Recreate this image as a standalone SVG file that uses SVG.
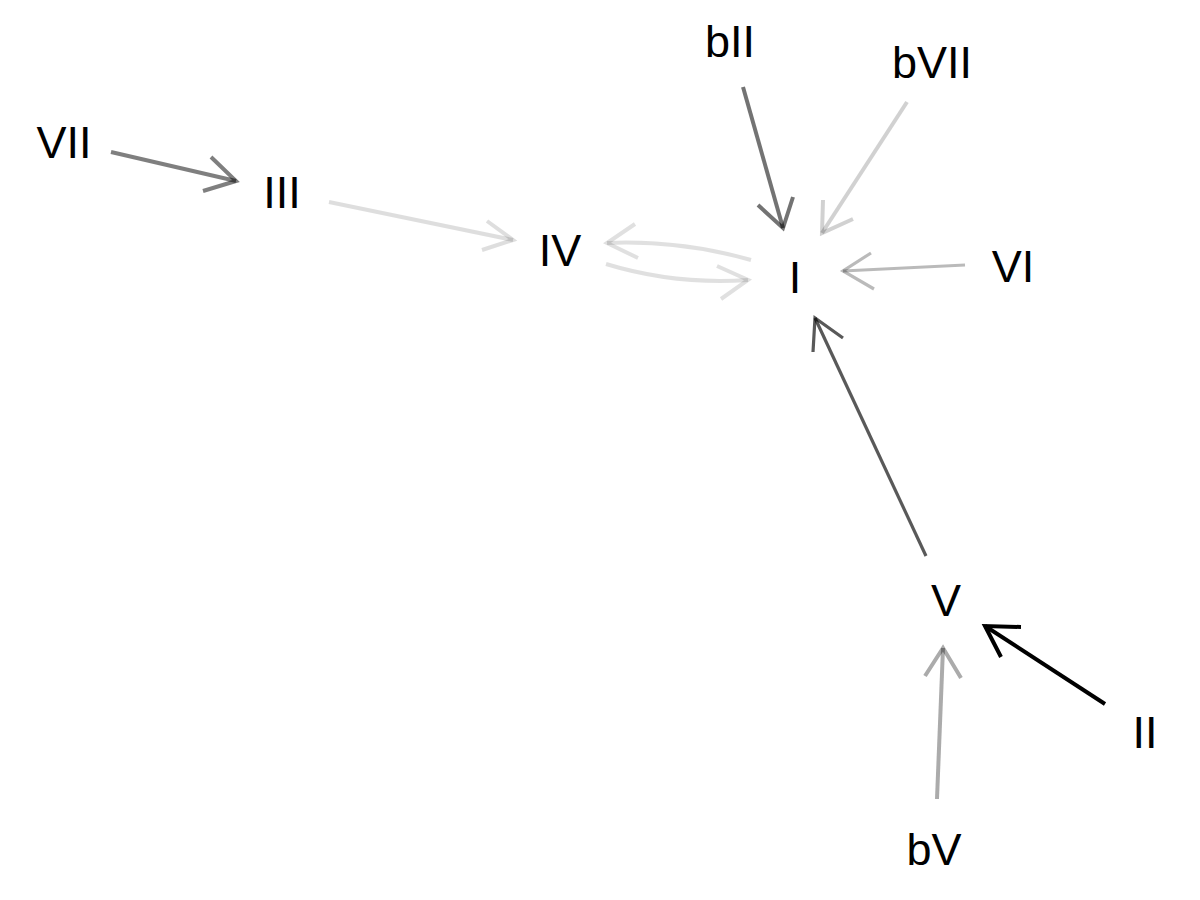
<svg xmlns="http://www.w3.org/2000/svg" width="1200" height="900" viewBox="0 0 1200 900">
  <style>
    .lbl { font-family: "Liberation Sans", Arial, sans-serif; font-size: 45px; fill: #000; text-anchor: middle; }
    .e { fill: none; stroke: #000; stroke-linecap: butt; stroke-linejoin: miter; }
    .w3 { stroke-width: 3.2; }
    .w4 { stroke-width: 4; }
  </style>
  <rect width="1200" height="900" fill="#fff"/>

  <!-- connectors: shaft + open arrowhead, shade = edge weight -->
  <g id="edges">
    <g id="e-VII-III" class="e w4" stroke-opacity="0.5">
      <path d="M111,152 L236,181"/>
      <path d="M211,157 L236,181 L203,191"/>
    </g>
    <g id="e-III-IV" class="e w4" stroke-opacity="0.13">
      <path d="M329,202 L513,240"/>
      <path d="M487,221 L513,240 L482,250"/>
    </g>
    <g id="e-I-IV" class="e w4" stroke-opacity="0.12">
      <path d="M751,260 Q680,240 607,243"/>
      <path d="M635,224 L607,243 L638,258"/>
    </g>
    <g id="e-IV-I" class="e w4" stroke-opacity="0.12">
      <path d="M606,264 Q675,285 748,280"/>
      <path d="M717,266 L748,280 L721,299"/>
    </g>
    <g id="e-bII-I" class="e w4" stroke-opacity="0.55">
      <path d="M743,87 L783,228"/>
      <path d="M758,205 L783,228 L793,197"/>
    </g>
    <g id="e-bVII-I" class="e w4" stroke-opacity="0.18">
      <path d="M907,102 L822,233"/>
      <path d="M823,200 L822,233 L853,219"/>
    </g>
    <g id="e-VI-I" class="e w3" stroke-opacity="0.27">
      <path d="M965,265 L843,271"/>
      <path d="M871,253 L843,271 L874,289"/>
    </g>
    <g id="e-V-I" class="e w3" stroke-opacity="0.65">
      <path d="M926,556 L815,318"/>
      <path d="M813,352 L815,318 L843,338"/>
    </g>
    <g id="e-II-V" class="e w4" stroke-opacity="1">
      <path d="M1105,704 L985,626"/>
      <path d="M1021,627 L985,626 L1001,657"/>
    </g>
    <g id="e-bV-V" class="e w4" stroke-opacity="0.33">
      <path d="M937,799 L943,648"/>
      <path d="M925,676 L943,648 L961,678"/>
    </g>
  </g>

  <!-- nodes -->
  <g id="n-VII"><text class="lbl" x="64" y="158">VII</text></g>
  <g id="n-III"><text class="lbl" x="282" y="208">III</text></g>
  <g id="n-IV"><text class="lbl" x="560" y="266">IV</text></g>
  <g id="n-I"><text class="lbl" x="795" y="293">I</text></g>
  <g id="n-bII"><text class="lbl" x="730" y="57">bII</text></g>
  <g id="n-bVII"><text class="lbl" x="932" y="78">bVII</text></g>
  <g id="n-VI"><text class="lbl" x="1013" y="282">VI</text></g>
  <g id="n-V"><text class="lbl" x="946" y="616">V</text></g>
  <g id="n-II"><text class="lbl" x="1145" y="748">II</text></g>
  <g id="n-bV"><text class="lbl" x="934" y="865">bV</text></g>
</svg>
